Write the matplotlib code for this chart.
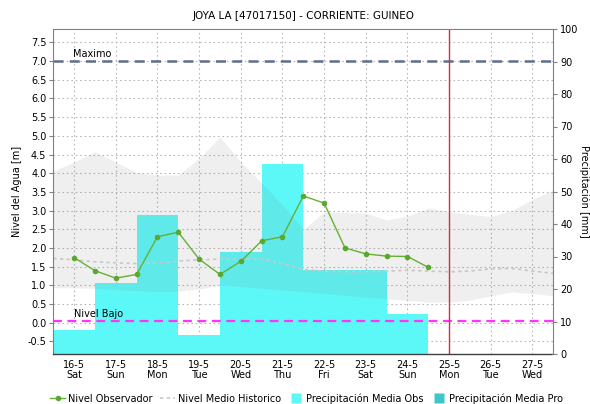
import matplotlib
matplotlib.use('Agg')
import matplotlib.pyplot as plt
from matplotlib.lines import Line2D

# ---------------- data ----------------
days = ['16-5', '17-5', '18-5', '19-5', '20-5', '21-5', '22-5', '23-5', '24-5', '25-5', '26-5', '27-5']
weekdays = ['Sat', 'Sun', 'Mon', 'Tue', 'Wed', 'Thu', 'Fri', 'Sat', 'Sun', 'Mon', 'Tue', 'Wed']

# daily observed precipitation [mm] (first 9 days)
precip_days = [0, 1, 2, 3, 4, 5, 6, 7, 8]
precip_obs = [7.5, 22.0, 42.7, 6.0, 31.3, 58.4, 26.0, 26.0, 12.3]

# observed water level [m], every half day
obs_t = [0, 0.5, 1, 1.5, 2, 2.5, 3, 3.5, 4, 4.5, 5, 5.5, 6, 6.5, 7, 7.5, 8, 8.5]
obs_level = [1.74, 1.39, 1.19, 1.29, 2.30, 2.42, 1.70, 1.29, 1.64, 2.19,
             2.30, 3.39, 3.20, 2.00, 1.84, 1.78, 1.77, 1.48]

# historic band and mean [m], every half day
hist_t = [-0.5, 0, 0.5, 1, 1.5, 2, 2.5, 3, 3.5, 4, 4.5, 5, 5.5, 6, 6.5, 7, 7.5,
          8, 8.5, 9, 9.5, 10, 10.5, 11, 11.5]
band_upper = [4.06, 4.30, 4.57, 4.30, 4.02, 3.95, 3.95, 4.40, 4.97, 4.30, 3.74,
              3.15, 2.50, 2.96, 2.95, 2.93, 2.75, 2.85, 3.07, 2.97, 2.90, 2.84,
              3.00, 3.30, 3.55]
band_lower = [0.93, 0.93, 0.92, 0.88, 0.85, 0.83, 0.84, 0.90, 1.00, 0.97, 0.92,
              0.87, 0.83, 0.78, 0.73, 0.68, 0.63, 0.60, 0.55, 0.55, 0.60, 0.72,
              0.82, 0.78, 0.72]
hist_mean = [1.72, 1.68, 1.63, 1.60, 1.58, 1.60, 1.65, 1.68, 1.70, 1.70, 1.70,
             1.58, 1.42, 1.38, 1.36, 1.36, 1.38, 1.40, 1.38, 1.36, 1.38, 1.44,
             1.45, 1.38, 1.32]

nivel_maximo = 7.0
nivel_bajo = 0.05
today_idx = 9

level_ticks = [-0.5, 0.0, 0.5, 1.0, 1.5, 2.0, 2.5, 3.0, 3.5, 4.0, 4.5, 5.0, 5.5, 6.0, 6.5, 7.0, 7.5]
precip_ticks = [0, 10, 20, 30, 40, 50, 60, 70, 80, 90, 100]

# ---------------- styles ----------------
FS = 7
cyan = '#5cf8f8'
teal = '#3cc8c8'
green = '#66b034'

fig = plt.figure(figsize=(5.9, 4.04), dpi=100)
pos = [53.3 / 590, 1 - 354 / 404, 500 / 590, 325 / 404]
ylim_l = (-0.84, 7.86)
xlim = (-0.5, 11.5)

# background grid axes
ax_bg = fig.add_axes(pos, zorder=0)
ax_bg.set_xlim(xlim)
ax_bg.set_ylim(ylim_l)
ax_bg.set_xticks(range(len(days)))
ax_bg.set_yticks(level_ticks)
ax_bg.grid(True, color='#b8b8b8', linestyle=(0, (1.5, 2.5)), linewidth=0.8)
ax_bg.tick_params(left=False, bottom=False, labelleft=False, labelbottom=False)
for s in ax_bg.spines.values():
    s.set_visible(False)

# level axes (on top)
ax_l = fig.add_axes(pos, zorder=2)
ax_l.patch.set_visible(False)
# precipitation axes (middle)
ax_p = ax_l.twinx()
ax_p.set_zorder(1)
ax_p.patch.set_visible(False)

ax_p.bar(precip_days, precip_obs, width=1.0, color=cyan, edgecolor='none')
ax_p.set_ylim(0, 100)
ax_p.set_yticks(precip_ticks)
ax_p.tick_params(axis='y', labelsize=FS, length=3, width=0.8, color='#808080', pad=2)
for s in ax_p.spines.values():
    s.set_visible(False)
fig.text(584 / 590, 1 - 191 / 404, 'Precipitación [mm]', fontsize=FS, rotation=270,
         ha='center', va='center')

# level content
ax_l.fill_between(hist_t, band_lower, band_upper, color='#808080', alpha=0.12, linewidth=0)
ax_l.plot(hist_t, hist_mean, color='#c8c8c8', linestyle=(0, (2, 2)), linewidth=1.2)
ax_l.axhline(nivel_maximo, color='#5f6e8c', linestyle=(0, (4, 2.5)), linewidth=1.8)
ax_l.axhline(nivel_bajo, color='#ff33ff', linestyle=(0, (4, 2.5)), linewidth=1.6)
ax_l.text(-0.02, nivel_maximo + 0.05, 'Maximo', fontsize=FS, va='bottom', ha='left')
ax_l.text(0.0, nivel_bajo + 0.05, 'Nivel Bajo', fontsize=FS, va='bottom', ha='left')
ax_l.plot(obs_t, obs_level, color=green, linewidth=1.0, marker='o', markersize=3,
          markerfacecolor='#5aa82c', markeredgecolor='#5aa82c')
ax_l.axvline(today_idx, color='#cc3344', linewidth=1.0)

ax_l.set_xlim(xlim)
ax_l.set_ylim(ylim_l)
ax_l.set_yticks(level_ticks)
ax_l.set_yticklabels([f'{v:.1f}' for v in level_ticks])
ax_l.set_xticks(range(len(days)))
ax_l.set_xticklabels([f'{d}\n{w}' for d, w in zip(days, weekdays)], fontsize=FS, linespacing=1.1)
ax_l.tick_params(axis='y', labelsize=FS, length=3, width=0.8, color='#808080', pad=2)
ax_l.tick_params(axis='x', length=0, pad=4)
ax_l.set_ylabel('Nivel del Agua [m]', fontsize=FS, labelpad=4)
for side in ['left', 'right', 'top']:
    ax_l.spines[side].set_color('#808080')
    ax_l.spines[side].set_linewidth(0.8)
ax_l.spines['bottom'].set_color('#404040')
ax_l.spines['bottom'].set_linestyle((0, (1, 1)))
ax_l.spines['bottom'].set_linewidth(1.0)

ax_l.set_title('JOYA LA [47017150] - CORRIENTE: GUINEO', fontsize=7.5, pad=7)

handles = [
    Line2D([0], [0], color=green, linewidth=1.0, marker='o', markersize=3,
           markerfacecolor='#5aa82c', markeredgecolor='#5aa82c'),
    Line2D([0], [0], color='#c8c8c8', linestyle=(0, (2, 2)), linewidth=1.2),
    Line2D([0], [0], linestyle='none', marker='s', markersize=7,
           markerfacecolor=cyan, markeredgecolor='none'),
    Line2D([0], [0], linestyle='none', marker='s', markersize=7,
           markerfacecolor=teal, markeredgecolor='none'),
]
labels = ['Nivel Observador', 'Nivel Medio Historico', 'Precipitación Media Obs', 'Precipitación Media Pro']
fig.legend(handles, labels, loc='center', bbox_to_anchor=(0.5195, 1 - 399 / 404), ncol=4,
           frameon=False, fontsize=FS, handlelength=1.5, handleheight=1.0,
           columnspacing=0.8, handletextpad=0.3, borderaxespad=0)

fig.savefig('out.png', dpi=100)
